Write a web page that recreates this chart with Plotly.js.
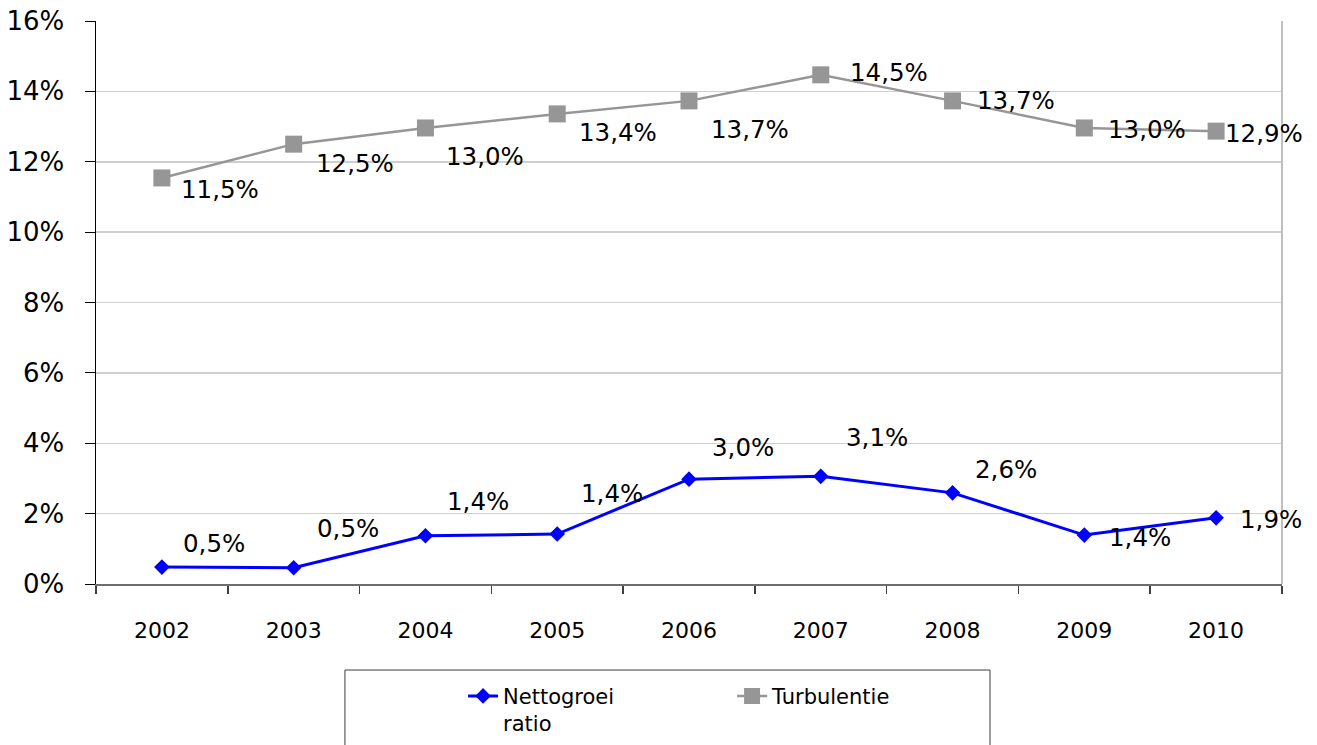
<!DOCTYPE html>
<html>
<head>
<meta charset="utf-8">
<script src="https://cdn.plot.ly/plotly-3.0.1.min.js"></script>
<style>html,body{margin:0;padding:0;background:#fff;}#chart{width:1317px;height:745px;}</style>
</head>
<body>
<div id="chart"></div>
<script>
// ---- data ----
const years = ['2002','2003','2004','2005','2006','2007','2008','2009','2010'];
const nettogroei = [0.48, 0.46, 1.37, 1.42, 2.98, 3.06, 2.59, 1.39, 1.88];
const turbulentie = [11.54, 12.50, 12.96, 13.36, 13.73, 14.47, 13.73, 12.96, 12.87];
const yTickVals = [0, 2, 4, 6, 8, 10, 12, 14, 16];
const seriesNames = ['Nettogroei<br>ratio', 'Turbulentie'];

// ---- label placement (pixel offsets, styling only) ----
const netDx = [52, 54, 53, 55, 54, 56, 53, 56, 55];
const netDy = [24, 39, 34, 41, 32, 39, 23, -2, -2];
const turDx = [58, 61, 60, 61, 61, 68, 63, 63, 48];
const turDy = [-12, -19, -29, -19, -29, 2, 0, -2, -2];

const fmt = v => v.toFixed(1).replace('.', ',') + '%';
const FONT = 'DejaVu Sans, Verdana, sans-serif';

const annotations = [];
years.forEach((y, i) => {
  annotations.push({x: i, y: nettogroei[i], xref: 'x', yref: 'y', text: fmt(nettogroei[i]),
    showarrow: false, xshift: netDx[i], yshift: netDy[i], xanchor: 'center', yanchor: 'middle',
    font: {family: FONT, size: 24.5, color: '#000'}});
  annotations.push({x: i, y: turbulentie[i], xref: 'x', yref: 'y', text: fmt(turbulentie[i]),
    showarrow: false, xshift: turDx[i], yshift: turDy[i], xanchor: 'center', yanchor: 'middle',
    font: {family: FONT, size: 24.5, color: '#000'}});
});

const traces = [
  {type: 'scatter', mode: 'lines+markers', x: years, y: nettogroei, name: seriesNames[0],
   line: {color: '#0000ff', width: 3}, marker: {symbol: 'diamond', size: 12, color: '#0000ff'}, cliponaxis: false},
  {type: 'scatter', mode: 'lines+markers', x: years, y: turbulentie, name: seriesNames[1],
   line: {color: '#969696', width: 2.5}, marker: {symbol: 'square', size: 17, color: '#969696'}, cliponaxis: false}
];

const layout = {
  width: 1317, height: 745,
  margin: {l: 96, r: 35, t: 21, b: 161, autoexpand: false},
  paper_bgcolor: '#fff', plot_bgcolor: '#fff',
  font: {family: FONT, color: '#000'},
  showlegend: true,
  hovermode: false,
  xaxis: {
    type: 'category', range: [-0.5, 8.5], tickson: 'boundaries',
    ticks: 'outside', ticklen: 8, tickcolor: '#404040', tickwidth: 1.5,
    showline: true, linecolor: '#6e6e6e', linewidth: 2,
    showgrid: false, zeroline: false, automargin: false,
    tickfont: {family: FONT, size: 22, color: '#000'},
    ticklabelstandoff: 26
  },
  yaxis: {
    range: [0, 16], tickvals: yTickVals, ticktext: yTickVals.map(v => v + '%'),
    ticks: 'outside', ticklen: 10, tickcolor: '#000', tickwidth: 1,
    showline: true, linecolor: '#000', linewidth: 1.5,
    showgrid: true, gridcolor: '#cfcfcf', gridwidth: 1.5,
    zeroline: false, automargin: false,
    tickfont: {family: FONT, size: 26, color: '#000'},
    ticklabelstandoff: 15
  },
  legend: {
    orientation: 'h', x: 0.3095, xanchor: 'left', y: -0.163, yanchor: 'top',
    bgcolor: 'rgba(0,0,0,0)', borderwidth: 0,
    font: {family: FONT, size: 21, color: '#000'},
    entrywidth: 224, entrywidthmode: 'pixels', valign: 'top'
  },
  shapes: [
    {type: 'line', xref: 'paper', yref: 'paper', x0: 1, x1: 1, y0: 0, y1: 1,
     line: {color: '#bfbfbf', width: 2}},
    {type: 'rect', xref: 'paper', yref: 'paper', x0: 0.2099, x1: 0.7538, y0: -0.1528, y1: -0.33,
     line: {color: '#3c3c3c', width: 1}, fillcolor: 'rgba(0,0,0,0)'}
  ],
  annotations: annotations
};

Plotly.newPlot('chart', traces, layout, {displayModeBar: false, staticPlot: true});
</script>
</body>
</html>
